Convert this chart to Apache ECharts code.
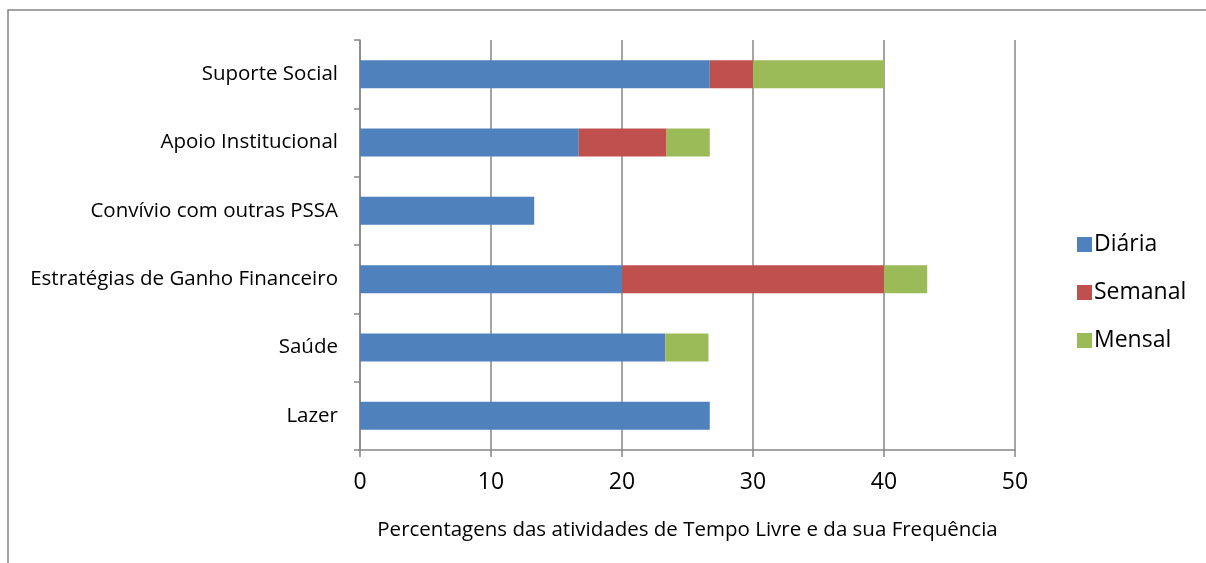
<!DOCTYPE html>
<html>
<head>
    <meta charset="utf-8" />
    <title>Atividades de Tempo Livre</title>
    <script src="https://cdn.jsdelivr.net/npm/echarts@6/dist/echarts.min.js"></script>
    <style>
        html, body { margin: 0; padding: 0; background: #fff; }
        #container { width: 1206px; height: 563px; }
    </style>
</head>
<body>
    <div id="container"></div>
    <script>
    // categorias (de cima para baixo)
    var categorias = ['Suporte Social', 'Apoio Institucional', 'Convívio com outras PSSA',
        'Estratégias de Ganho Financeiro', 'Saúde', 'Lazer'];
    var diaria  = [26.7, 16.7, 13.3, 20.0, 23.3, 26.7];
    var semanal = [3.3, 6.7, 0, 20.0, 0, 0];
    var mensal  = [10.0, 3.3, 0, 3.3, 3.3, 0];
    var ticksX = [0, 10, 20, 30, 40, 50];

    var fonte = '"Open Sans", sans-serif';
    var cinza = '#868686';

    var myChart = echarts.init(document.getElementById('container'));

    function serie(nome, dados, cor) {
        return {
            name: nome,
            type: 'bar',
            stack: 'total',
            barWidth: 28,
            itemStyle: { color: cor },
            emphasis: { disabled: true },
            data: dados
        };
    }

    var option = {
        backgroundColor: '#fff',
        animation: false,
        textStyle: { fontFamily: fonte },
        graphic: [{
            type: 'rect',
            shape: { x: 8, y: 10, width: 1220, height: 600 },
            style: { fill: 'none', stroke: cinza, lineWidth: 1.5 },
            silent: true
        }],
        grid: { left: 360, right: 191, top: 40, bottom: 113 },
        legend: {
            orient: 'vertical',
            left: 1072,
            top: 228,
            itemWidth: 15,
            itemHeight: 15,
            itemGap: 25,
            icon: 'rect',
            textStyle: { fontSize: 23, color: '#000', fontFamily: fonte, padding: [0, 0, 0, -3] },
            data: ['Diária', 'Semanal', 'Mensal']
        },
        xAxis: {
            type: 'value',
            min: ticksX[0],
            max: ticksX[ticksX.length - 1],
            interval: 10,
            name: 'Percentagens das atividades de Tempo Livre e da sua Frequência',
            nameLocation: 'middle',
            nameGap: 70,
            nameTextStyle: { fontSize: 20.5, color: '#000', fontFamily: fonte },
            axisLine: { show: true, lineStyle: { color: cinza, width: 1.5 } },
            axisTick: { show: true, length: 7, lineStyle: { color: cinza, width: 1.5 } },
            axisLabel: { fontSize: 23, color: '#000', margin: 21, fontFamily: fonte },
            splitLine: { show: true, lineStyle: { color: cinza, width: 1.5 } }
        },
        yAxis: {
            type: 'category',
            inverse: true,
            data: categorias,
            axisLine: { show: true, lineStyle: { color: cinza, width: 1.5 } },
            axisTick: { show: true, length: 6, lineStyle: { color: cinza, width: 1.5 } },
            axisLabel: { fontSize: 20.5, color: '#000', margin: 22, fontFamily: fonte }
        },
        series: [
            serie('Diária', diaria, '#4F81BD'),
            serie('Semanal', semanal, '#C0504D'),
            serie('Mensal', mensal, '#9BBB59')
        ]
    };
    myChart.setOption(option);
    </script>
</body>
</html>
